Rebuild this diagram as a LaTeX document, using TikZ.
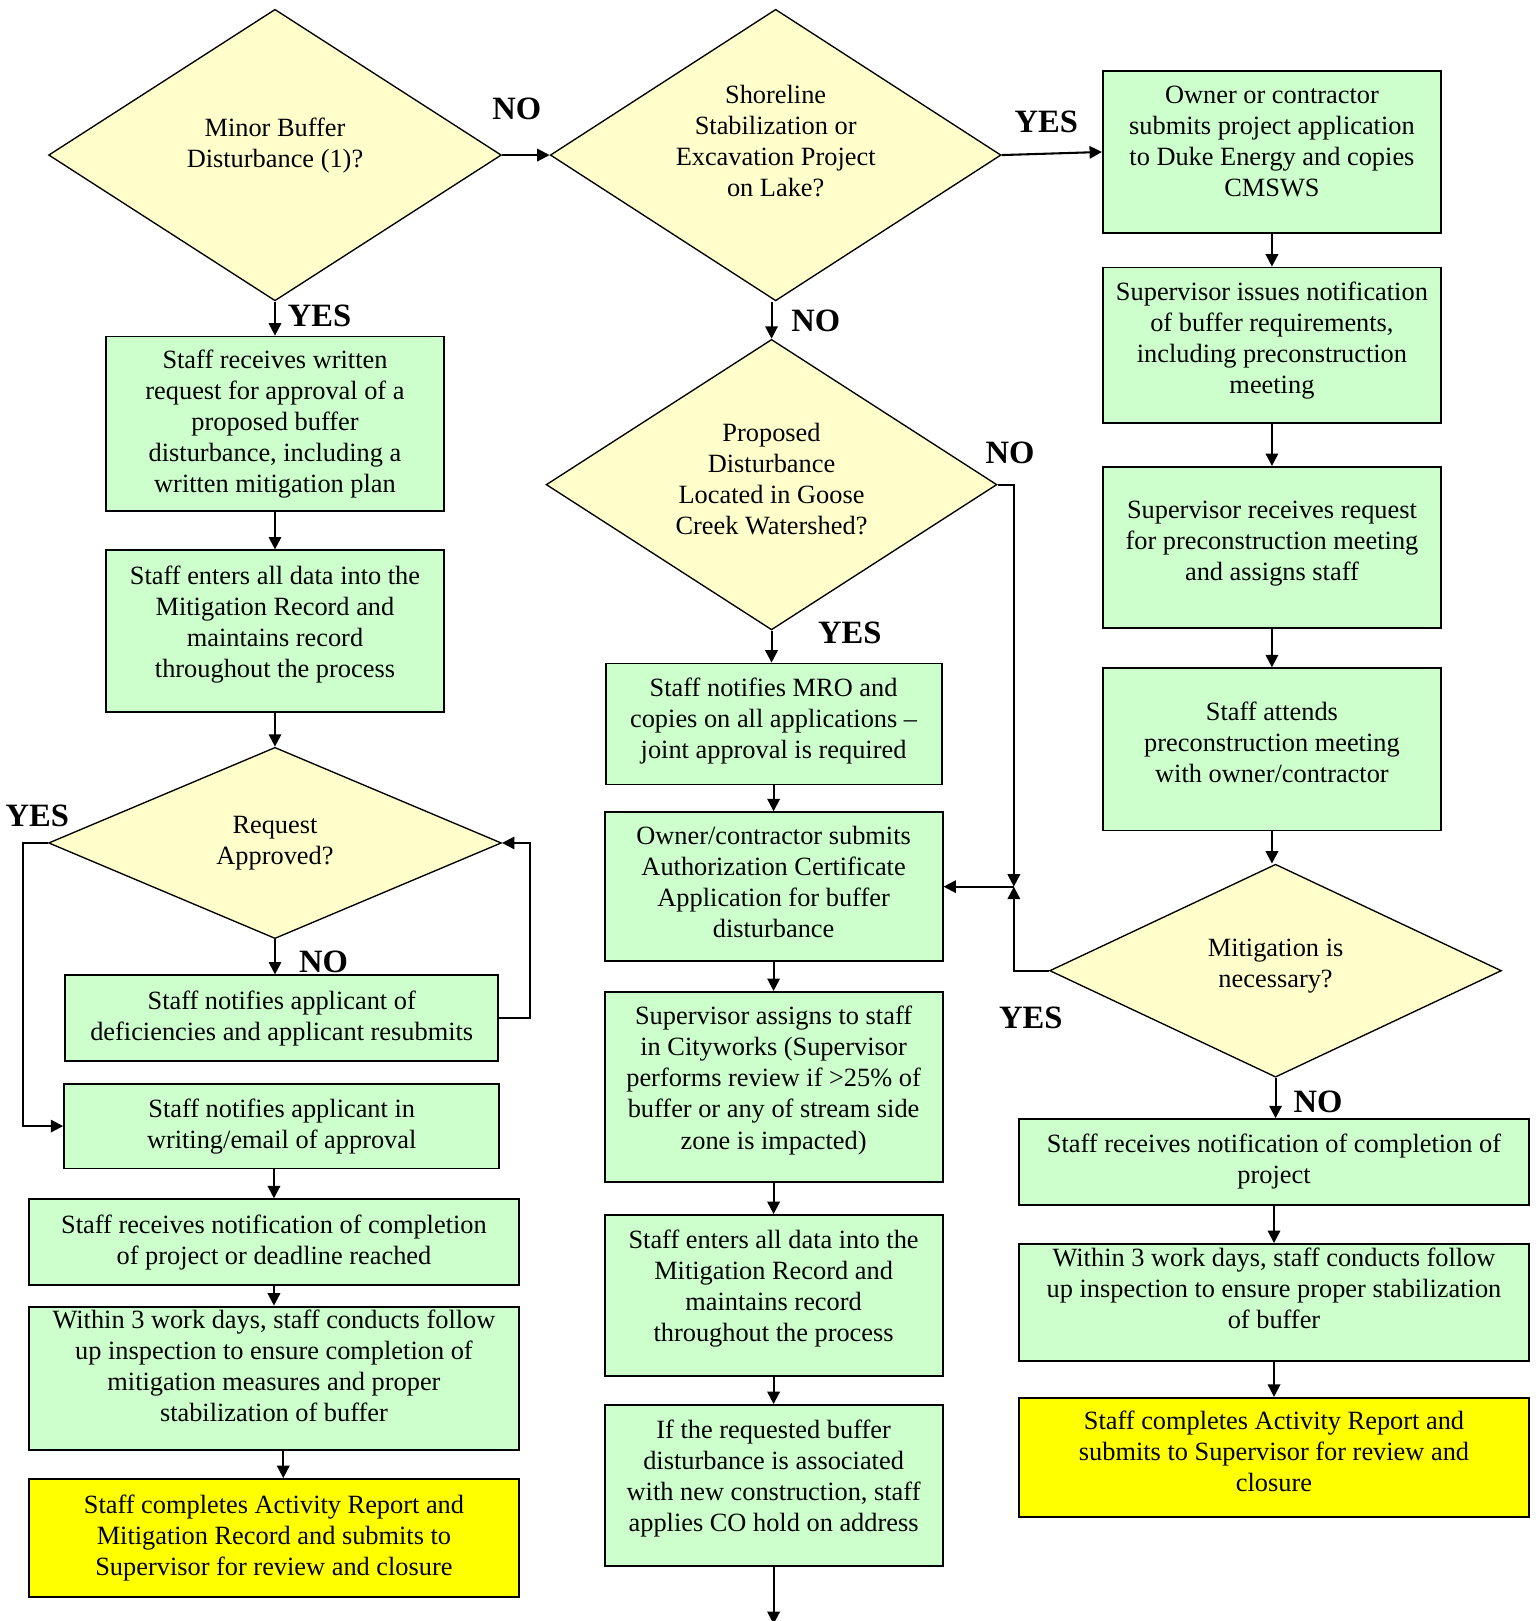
\documentclass[tikz,border=0pt]{standalone}
\usepackage{fontspec}
\setmainfont{Liberation Serif}
\usetikzlibrary{positioning, shapes.geometric, arrows.meta}
\definecolor{boxgreen}{HTML}{CCFFCC}
\definecolor{paleyellow}{HTML}{FFFFCC}
\definecolor{endyellow}{HTML}{FFFF00}

\begin{document}
\begin{tikzpicture}[
    x=1pt, y=-1pt, font=\fontsize{25.5}{30}\selectfont,
    flow/.style={line width=2pt, -{Triangle[length=12pt, width=12pt]}},
    proc/.style={draw, line width=1.8pt, fill=boxgreen, align=center, inner sep=2pt},
    closing/.style={proc, fill=endyellow},
    decide/.style={draw, line width=1.3pt, fill=paleyellow, diamond, aspect=1.6, inner sep=0, align=center},
    lift/.style={text depth=#1},
    lbl/.style={font=\fontsize{31.5}{30}\selectfont\bfseries, inner sep=0},
  ]
  \useasboundingbox (0,0) rectangle (1487.7,1568);

  % left column
  \node[decide, minimum width=438, minimum height=282, lift=24pt] (d1) at (266,150) {Minor Buffer\\Disturbance (1)?};
  \node[proc, minimum width=327, minimum height=169, below=33pt of d1] (l1) {Staff receives written\\request for approval of a\\proposed buffer\\disturbance, including a\\written mitigation plan};
  \node[proc, minimum width=327, minimum height=156, below=36pt of l1, lift=18pt] (l2) {Staff enters all data into the\\Mitigation Record and\\maintains record\\throughout the process};
  \node[decide, minimum width=438, minimum height=185, below=33pt of l2] (d4) {Request\\Approved?};
  \node[proc, minimum width=419, minimum height=83, below=34pt of d4, xshift=6.5pt] (l3) {Staff notifies applicant of\\deficiencies and applicant resubmits};
  \node[proc, minimum width=421, minimum height=82, below=20pt of l3] (l4) {Staff notifies applicant in\\writing/email of approval};
  \node[proc, minimum width=474, minimum height=83, below=28pt of l4, xshift=-7.5pt] (l5) {Staff receives notification of completion\\of project or deadline reached};
  \node[proc, minimum width=474, minimum height=139, below=19pt of l5, lift=24pt] (l6) {Within 3 work days, staff conducts follow\\up inspection to ensure completion of\\mitigation measures and proper\\stabilization of buffer};
  \node[closing, minimum width=474, minimum height=114, below=26pt of l6] (l7) {Staff completes Activity Report and\\Mitigation Record and submits to\\Supervisor for review and closure};

  % middle column
  \node[decide, minimum width=436, minimum height=282, right=46pt of d1, lift=27pt] (d2) {Shoreline\\Stabilization or\\Excavation Project\\on Lake?};
  \node[decide, minimum width=436, minimum height=281, below=36pt of d2, xshift=-4pt, lift=11pt] (d3) {Proposed\\Disturbance\\Located in Goose\\Creek Watershed?};
  \node[proc, minimum width=325, minimum height=117, below=31pt of d3, xshift=2pt, lift=11pt] (m1) {Staff notifies MRO and\\copies on all applications --\\joint approval is required};
  \node[proc, minimum width=327, minimum height=144, below=25pt of m1, lift=10pt] (m2) {Owner/contractor submits\\Authorization Certificate\\Application for buffer\\disturbance};
  \node[proc, minimum width=327, minimum height=184, below=28pt of m2, lift=18pt] (m3) {Supervisor assigns to staff\\in Cityworks (Supervisor\\performs review if >25\% of\\buffer or any of stream side\\zone is impacted)};
  \node[proc, minimum width=327, minimum height=156, below=30pt of m3, lift=19pt] (m4) {Staff enters all data into the\\Mitigation Record and\\maintains record\\throughout the process};
  \node[proc, minimum width=327, minimum height=156, below=26pt of m4, lift=19pt] (m5) {If the requested buffer\\disturbance is associated\\with new construction, staff\\applies CO hold on address};

  % right column
  \node[proc, minimum width=327, minimum height=156, right=97pt of d2, yshift=3pt, lift=20pt] (r1) {Owner or contractor\\submits project application\\to Duke Energy and copies\\CMSWS};
  \node[proc, minimum width=327, minimum height=150, below=32pt of r1, lift=15pt] (r2) {Supervisor issues notification\\of buffer requirements,\\including preconstruction\\meeting};
  \node[proc, minimum width=327, minimum height=156, below=41pt of r2, lift=13pt] (r3) {Supervisor receives request\\for preconstruction meeting\\and assigns staff};
  \node[proc, minimum width=327, minimum height=157, below=37pt of r3, lift=14pt] (r4) {Staff attends\\preconstruction meeting\\with owner/contractor};
  \node[decide, minimum width=437, minimum height=206, below=31pt of r4, xshift=3.5pt, lift=15pt] (d5) {Mitigation is\\necessary?};
  \node[proc, minimum width=493, minimum height=83, below=39pt of d5, xshift=-1.5pt] (r5) {Staff receives notification of completion of\\project};
  \node[proc, minimum width=493, minimum height=113, below=36pt of r5, lift=27pt] (r6) {Within 3 work days, staff conducts follow\\up inspection to ensure proper stabilization\\of buffer};
  \node[closing, minimum width=493, minimum height=115, below=34pt of r6, lift=11pt] (r7) {Staff completes Activity Report and\\submits to Supervisor for review and\\closure};

  \coordinate[right=68pt of m2.east] (jn);
  \coordinate[below=55pt of m5.south] (mend);

  % connectors
  \draw[flow] (d1.east) -- (d2.west);
  \draw[flow] (d2.east) -- (r1.west);
  \draw[flow] (d1.south) -- (l1.north);
  \draw[flow] (l1.south) -- (l1.south |- l2.north);
  \draw[flow] (l2.south -| d4.north) -- (d4.north);
  \draw[flow] (d4.south) -- (d4.south |- l3.north);
  \draw[flow] (l3.east) -- ++(30,0) |- (d4.east);
  \draw[flow] (d4.west) -- ++(-24,0) |- (l4.west);
  \draw[flow] (l5.north |- l4.south) -- (l5.north);
  \draw[flow] (l5.south) -- (l6.north);
  \draw[flow] ([xshift=9pt]l6.south) -- ([xshift=9pt]l7.north);

  \draw[flow] (d3.north |- d2.south) -- (d3.north);
  \draw[flow] (d3.south) -- (d3.south |- m1.north);
  \draw[flow] (m1.south) -- (m2.north);
  \draw[flow] (m2.south) -- (m3.north);
  \draw[flow] (m3.south) -- (m4.north);
  \draw[flow] (m4.south) -- (m5.north);
  \draw[flow] (m5.south) -- (mend);
  \draw[flow] (d3.east) -| (jn);
  \draw[flow] (d5.west) -| (jn);
  \draw[flow] (jn) -- (m2.east);

  \draw[flow] (r1.south) -- (r2.north);
  \draw[flow] (r2.south) -- (r3.north);
  \draw[flow] (r3.south) -- (r4.north);
  \draw[flow] (r4.south) -- (r4.south |- d5.north);
  \draw[flow] (d5.south) -- (d5.south |- r5.north);
  \draw[flow] (r5.south) -- (r6.north);
  \draw[flow] (r6.south) -- (r7.north);

  % branch labels
  \node[lbl] (no1) at (500,105) {NO};
  \node[lbl] (yes1) at (1012,118) {YES};
  \node[lbl] (yes2) at (309,306) {YES};
  \node[lbl] (no2) at (789,310) {NO};
  \node[lbl] (no3) at (977,438) {NO};
  \node[lbl] (yes3) at (822,612) {YES};
  \node[lbl] (yes4) at (36,789) {YES};
  \node[lbl] (no4) at (313,930) {NO};
  \node[lbl] (yes5) at (997,985) {YES};
  \node[lbl] (no5) at (1275,1066) {NO};

\end{tikzpicture}
\end{document}
